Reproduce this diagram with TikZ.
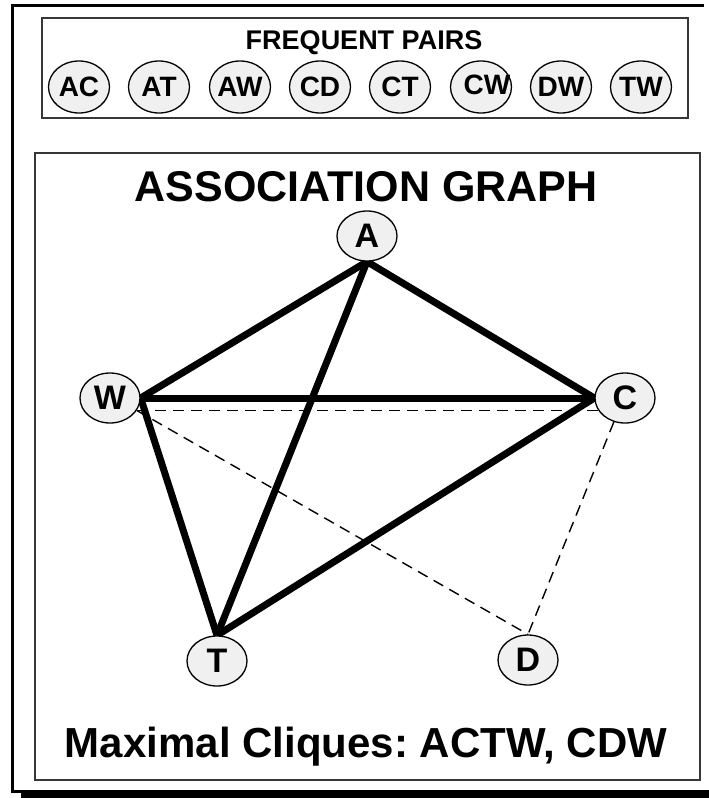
\documentclass[tikz,border=0pt]{standalone}
\usepackage{fontspec}
\setsansfont{Liberation Sans}
\usepackage{xcolor}
\usetikzlibrary{positioning,calc,shapes.geometric,backgrounds}
\definecolor{bubble}{RGB}{240,240,240}
\definecolor{rim}{RGB}{55,55,55}
\tikzset{
  panel/.style={draw=rim, line width=1.6pt, inner sep=0pt},
  heading/.style={font=\sffamily\bfseries\fontsize{27}{30}\selectfont, inner sep=0pt},
  bigtitle/.style={font=\sffamily\bfseries\fontsize{43}{48}\selectfont, inner sep=0pt},
  % itemset bubbles
  pair/.style={draw, ellipse, line width=1.3pt, fill=bubble, inner xsep=-8pt, inner ysep=0pt,
    minimum width=61pt, minimum height=52pt, font=\sffamily\bfseries\fontsize{28}{30}\selectfont},
  vertex/.style={draw, ellipse, line width=1.3pt, fill=bubble, inner sep=0pt,
    minimum width=60pt, minimum height=50pt, font=\sffamily\bfseries\fontsize{34}{36}\selectfont},
  strong/.style={line width=7pt},
  weak/.style={line width=1.4pt, dash pattern=on 11pt off 7pt}
}
\begin{document}
\begin{tikzpicture}[x=1pt,y=-1pt]
  \useasboundingbox (0,0) rectangle (709,798);
  % sheet border and its shadow
  \fill (21,790) rectangle (709,798);
  \draw[line width=3pt] (704,5) -- (12,5) -- (12,791) -- (21,791);

  % frequent pairs
  \node[panel, minimum width=646pt, minimum height=100pt, anchor=north west] (freq) at (41,17) {};
  \node[heading, anchor=base] (freqtitle) at (364,49) {FREQUENT PAIRS};
  \node[pair] (ac) at (79,87) {AC};
  \node[pair] (at) at (159,87) {AT};
  \node[pair] (aw) at (240,87) {AW};
  \node[pair] (cd) at (320,87) {CD};
  \node[pair] (ct) at (400,87) {CT};
  \node[pair] (cw) at (481,87) {\makebox[0pt]{\hspace*{12pt}\raisebox{4pt}{CW}}};
  \node[pair] (dw) at (561,87) {DW};
  \node[pair] (tw) at (641,87) {TW};

  % association graph
  \node[panel, minimum width=665pt, minimum height=627pt, anchor=north west] (graph) at (34,152) {};
  \node[bigtitle, anchor=base] (gtitle) at (366,201) {ASSOCIATION GRAPH};
  \node[vertex] (A) at (367,236) {A};
  \node[vertex] (W) at (110,398) {W};
  \node[vertex] (C) at (625,398) {C};
  \node[vertex] (T) at (217,661) {T};
  \node[vertex] (D) at (528,660) {D};

  \begin{scope}[on background layer]
    % clique ACTW
    \draw[strong] (A.south) -- (W.east);
    \draw[strong] (A.south) -- (C.west);
    \draw[strong] (A.south) -- (T.north);
    \draw[strong] (W.east) -- (C.west);
    \draw[strong] (W.east) -- (T.north);
    \draw[strong] (C.west) -- (T.north);
    % clique CDW
    \draw[weak] (W.-25) -- (C.-155);
    \draw[weak] (W.-25) -- (D.north);
    \draw[weak] (C.-115) -- (D.north);
  \end{scope}

  \node[bigtitle, font=\sffamily\bfseries\fontsize{42}{48}\selectfont, anchor=base] (cliques) at (366,757)
    {Maximal Cliques:\ ACTW, CDW};
\end{tikzpicture}
\end{document}
